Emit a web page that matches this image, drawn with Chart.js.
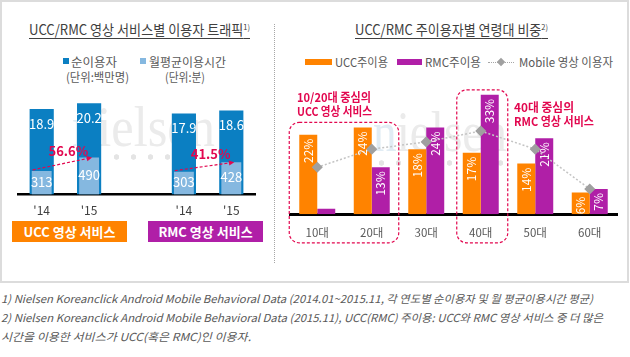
<!DOCTYPE html>
<html><head><meta charset="utf-8">
<script src="https://cdn.jsdelivr.net/npm/chart.js@4/dist/chart.umd.min.js"></script>
<style>
body{margin:0;background:#fff;width:630px;height:357px;overflow:hidden;position:relative;font-family:"Noto Sans CJK KR","Noto Sans",sans-serif;color:#595959;}
.t{position:absolute;white-space:nowrap;line-height:16px;transform-origin:0 50%;}
#frame{position:absolute;left:0;top:0;width:625px;height:279px;border:2px solid #dcdcdc;}
#sep{position:absolute;left:274px;top:24px;height:239px;border-left:1px dotted #a6a6a6;}
.title{font-size:14px;color:#404040;text-decoration:underline;text-underline-offset:3px;}
.title sup{font-size:8px;vertical-align:5px;text-decoration:none;}
.sw{position:absolute;}
.lg{font-size:12px;color:#595959;}
.cap{position:absolute;color:#fff;font-weight:bold;font-size:13px;text-align:center;line-height:21px;}
.ann{color:#e2074f;font-weight:bold;font-size:12px;}
.fn{font-style:italic;font-size:11px;color:#595959;}
.wm{position:absolute;white-space:nowrap;font-family:"Liberation Serif","DejaVu Serif",serif;font-size:58px;line-height:58px;color:#ebebeb;transform-origin:0 50%;}
.wm span{color:#e1ecf4;}
.dots{position:absolute;height:6px;background:radial-gradient(circle, #e4e4e4 2.4px, rgba(255,255,255,0) 3px) 0 0/17px 6px repeat-x;}
canvas{position:absolute;}
</style></head>
<body>
<div id="frame"></div>
<div id="sep"></div>

<!-- background watermarks -->
<div class="wm" id="w1" style="left:72px;top:98px;"><span>n</span>ielsen</div>
<div class="dots" style="left:108px;top:154px;width:90px;"></div>
<div class="wm" id="w2" style="left:373px;top:103px;"><span>n</span>ielsen</div>
<div class="dots" style="left:373px;top:160px;width:130px;"></div>

<div class="t title" id="tl" style="left:29px;top:19px;">UCC/RMC 영상 서비스별 이용자 트래픽<sup>1)</sup></div>
<div class="t title" id="tr" style="left:355px;top:19px;">UCC/RMC 주이용자별 연령대 비중<sup>2)</sup></div>

<!-- left legend -->
<div class="sw" style="left:63px;top:58px;width:6px;height:6px;background:#0b7fc2"></div>
<div class="t lg" id="l1" style="left:71px;top:54px;">순이용자</div>
<div class="t lg" id="l2" style="left:66px;top:69px;">(단위:백만명)</div>
<div class="sw" style="left:140px;top:58px;width:6px;height:6px;background:#85b8e0"></div>
<div class="t lg" id="l3" style="left:149px;top:54px;">월평균이용시간</div>
<div class="t lg" id="l4" style="left:165px;top:69px;">(단위:분)</div>

<!-- right legend -->
<div class="sw" style="left:305px;top:59px;width:27px;height:6px;background:#ff8300"></div>
<div class="t lg" id="r1" style="left:335px;top:54px;">UCC주이용</div>
<div class="sw" style="left:397px;top:59px;width:25px;height:6px;background:#b01fa7"></div>
<div class="t lg" id="r2" style="left:425px;top:54px;">RMC주이용</div>
<div class="sw" style="left:488px;top:62px;width:26px;border-top:1px dotted #a6a6a6"></div>
<div class="sw" style="left:498px;top:59px;width:6px;height:6px;background:#a0a0a0;transform:rotate(45deg)"></div>
<div class="t lg" id="r3" style="left:519px;top:54px;">Mobile 영상 이용자</div>

<canvas id="cl" width="274" height="150" style="left:0;top:80px;"></canvas>
<canvas id="cr" width="345" height="170" style="left:280px;top:80px;"></canvas>

<div class="cap" style="left:12px;top:221px;width:115px;height:21px;background:#ff8300">UCC 영상 서비스</div>
<div class="cap" style="left:148px;top:221px;width:115px;height:21px;background:#b01fa7">RMC 영상 서비스</div>

<div class="t ann" id="a1" style="left:297px;top:89px;">10/20대 중심의</div>
<div class="t ann" id="a2" style="left:297px;top:103px;">UCC 영상 서비스</div>
<div class="t ann" id="a3" style="left:514px;top:99px;">40대 중심의</div>
<div class="t ann" id="a4" style="left:514px;top:113px;">RMC 영상 서비스</div>

<div class="t fn" id="f1" style="left:1px;top:290px;">1) Nielsen Koreanclick Android Mobile Behavioral Data (2014.01~2015.11, 각 연도별 순이용자 및 월 평균이용시간 평균)</div>
<div class="t fn" id="f2" style="left:1px;top:309px;">2) Nielsen Koreanclick Android Mobile Behavioral Data (2015.11), UCC(RMC) 주이용: UCC와 RMC 영상 서비스 중 더 많은</div>
<div class="t fn" id="f3" style="left:1px;top:328px;">시간을 이용한 서비스가 UCC(혹은 RMC)인 이용자.</div>

<script>
// ---- data ----
const leftCategories = ["'14", "'15", "", "'14", "'15"];
const users = [18.9, 20.2, null, 17.9, 18.6];          // 순이용자 (백만명)
const minutes = [313, 490, null, 303, 428];            // 월평균이용시간 (분)
const growthLabels = ["56.6%", "41.5%"];
const ageGroups = ["10대", "20대", "30대", "40대", "50대", "60대"];
const uccShare = [22, 24, 18, 17, 14, 6];
const rmcShare = [1.5, 13, 24, 33, 21, 7];
const mobileShare = [13, 18, 20, 23, 18, 7];

const ORANGE = '#ff8300', PURPLE = '#b01fa7', DARK = '#0b7fc2', LIGHT = '#85b8e0', CRIMSON = '#e2074f';
const FONT = '"Noto Sans CJK KR", "Noto Sans", sans-serif';

function fit(id, w) {
  const el = document.getElementById(id);
  const r = el.getBoundingClientRect().width;
  el.style.transform = 'scaleX(' + (w / r) + ')';
}

function arrow(ctx, x1, y1, x2, y2) {
  const ang = Math.atan2(y2 - y1, x2 - x1), h = 6;
  ctx.save();
  ctx.strokeStyle = CRIMSON; ctx.fillStyle = CRIMSON; ctx.lineWidth = 1.2;
  ctx.setLineDash([3, 2]);
  ctx.beginPath(); ctx.moveTo(x1, y1);
  ctx.lineTo(x2 - Math.cos(ang) * h * 0.8, y2 - Math.sin(ang) * h * 0.8); ctx.stroke();
  ctx.setLineDash([]);
  ctx.beginPath(); ctx.moveTo(x2, y2);
  ctx.lineTo(x2 - h * Math.cos(ang - 0.45), y2 - h * Math.sin(ang - 0.45));
  ctx.lineTo(x2 - h * Math.cos(ang + 0.45), y2 - h * Math.sin(ang + 0.45));
  ctx.closePath(); ctx.fill();
  ctx.restore();
}

const leftPlugin = {
  id: 'leftLabels',
  afterDatasetsDraw(chart) {
    const ctx = chart.ctx;
    const dm = chart.getDatasetMeta(0), lm = chart.getDatasetMeta(1);
    ctx.save();
    ctx.fillStyle = '#fff'; ctx.textAlign = 'center'; ctx.textBaseline = 'middle';
    ctx.font = '13px ' + FONT;
    dm.data.forEach((b, i) => { if (users[i] != null) ctx.fillText(users[i].toFixed(1), b.x, b.y + 15); });
    lm.data.forEach((b, i) => { if (minutes[i] != null) ctx.fillText(String(minutes[i]), b.x, (b.y + b.base) / 2 - 1); });
    ctx.restore();
    [[0, 1], [3, 4]].forEach((p, k) => {
      const a = lm.data[p[0]], b = lm.data[p[1]];
      const x1 = a.x - 9, y1 = a.y - 1, x2 = b.x + 3, y2 = b.y;
      arrow(ctx, x1, y1, x2, y2);
      ctx.save();
      ctx.fillStyle = CRIMSON; ctx.font = 'bold 13px ' + FONT;
      ctx.textAlign = 'center'; ctx.textBaseline = 'middle';
      ctx.fillText(growthLabels[k], (x1 + x2) / 2 + 6, (y1 + y2) / 2 - 12.5);
      ctx.restore();
    });
  }
};

new Chart(document.getElementById('cl'), {
  type: 'bar',
  data: {
    labels: leftCategories,
    datasets: [
      { label: '순이용자', data: users, backgroundColor: DARK, yAxisID: 'y', grouped: false, order: 1,
        barPercentage: 0.51, categoryPercentage: 1 },
      { label: '월평균이용시간', data: minutes, backgroundColor: LIGHT, yAxisID: 'y2', grouped: false, order: 0,
        barPercentage: 0.42, categoryPercentage: 1 }
    ]
  },
  options: {
    responsive: false, animation: false, devicePixelRatio: 1,
    layout: { padding: { left: 18, right: 19, top: 15, bottom: 5.5 } },
    plugins: { legend: { display: false }, tooltip: { enabled: false } },
    scales: {
      x: {
        grid: { display: false, drawTicks: false },
        border: { display: true, color: '#000', width: 2.5 },
        ticks: { color: '#404040', font: { family: FONT, size: 12 }, padding: 9 },
        afterFit: s => { s.height = 30; }
      },
      y: { display: false, min: 0, max: 22 },
      y2: { display: false, min: 0, max: 1320 }
    }
  },
  plugins: [leftPlugin]
});

const rightPlugin = {
  id: 'rightLabels',
  afterDatasetsDraw(chart) {
    const ctx = chart.ctx;
    const xs = chart.scales.x, ys = chart.scales.y, area = chart.chartArea;
    // dashed highlight boxes
    const boxes = [{ from: 0, to: 1, padL: 28, padR: 27 }, { from: 3, to: 3, padL: 24, padR: 27 }];
    ctx.save();
    ctx.strokeStyle = CRIMSON; ctx.lineWidth = 1.2; ctx.setLineDash([3, 2]);
    boxes.forEach(bx => {
      let mx = 0;
      for (let i = bx.from; i <= bx.to; i++) mx = Math.max(mx, uccShare[i], rmcShare[i]);
      const l = xs.getPixelForValue(bx.from) - bx.padL, r = xs.getPixelForValue(bx.to) + bx.padR;
      const t = ys.getPixelForValue(mx) - 5, b = area.bottom + 28.5, rad = 10;
      ctx.beginPath();
      ctx.moveTo(l + rad, t); ctx.lineTo(r - rad, t); ctx.arcTo(r, t, r, t + rad, rad);
      ctx.lineTo(r, b - rad); ctx.arcTo(r, b, r - rad, b, rad);
      ctx.lineTo(l + rad, b); ctx.arcTo(l, b, l, b - rad, rad);
      ctx.lineTo(l, t + rad); ctx.arcTo(l, t, l + rad, t, rad);
      ctx.closePath(); ctx.stroke();
    });
    ctx.restore();
    // rotated value labels
    ctx.save();
    ctx.fillStyle = '#fff'; ctx.font = '12px ' + FONT;
    ctx.textAlign = 'right'; ctx.textBaseline = 'middle';
    [1, 2].forEach(di => {
      const vals = chart.data.datasets[di].data;
      chart.getDatasetMeta(di).data.forEach((b, i) => {
        if (vals[i] < 3) return;
        ctx.save();
        ctx.translate(b.x, b.y + 4);
        ctx.rotate(-Math.PI / 2);
        ctx.fillText(Math.round(vals[i]) + '%', 0, 0);
        ctx.restore();
      });
    });
    ctx.restore();
  }
};

new Chart(document.getElementById('cr'), {
  type: 'bar',
  data: {
    labels: ageGroups,
    datasets: [
      { type: 'line', label: 'Mobile 영상 이용자', data: mobileShare, order: 0,
        borderColor: '#c4c4c4', borderDash: [2, 2], borderWidth: 1.5, tension: 0,
        pointStyle: 'rectRot', pointRadius: 4.5, pointBackgroundColor: '#a0a0a0', pointBorderColor: '#a0a0a0' },
      { label: 'UCC주이용', data: uccShare, backgroundColor: ORANGE, order: 1, categoryPercentage: 0.66, barPercentage: 1 },
      { label: 'RMC주이용', data: rmcShare, backgroundColor: PURPLE, order: 1, categoryPercentage: 0.66, barPercentage: 1 }
    ]
  },
  options: {
    responsive: false, animation: false, devicePixelRatio: 1,
    layout: { padding: { left: 10, right: 8, top: 7.6, bottom: 5.7 } },
    plugins: { legend: { display: false }, tooltip: { enabled: false } },
    scales: {
      x: {
        grid: { display: false, drawTicks: false },
        border: { display: true, color: '#000', width: 3 },
        ticks: { color: '#595959', font: { family: FONT, size: 11.5 }, padding: 11 },
        afterFit: s => { s.height = 30; }
      },
      y: { display: false, min: 0, max: 35 }
    }
  },
  plugins: [rightPlugin]
});

fit('tl', 221); fit('tr', 193);
fit('f1', 592); fit('f2', 602); fit('f3', 250);
fit('l1', 46); fit('l2', 63); fit('l3', 77); fit('l4', 40);
fit('r1', 53); fit('r2', 56); fit('r3', 94);
fit('a1', 74); fit('a2', 75); fit('a3', 60); fit('a4', 80);
fit('w1', 143); fit('w2', 134);
</script>
</body></html>
